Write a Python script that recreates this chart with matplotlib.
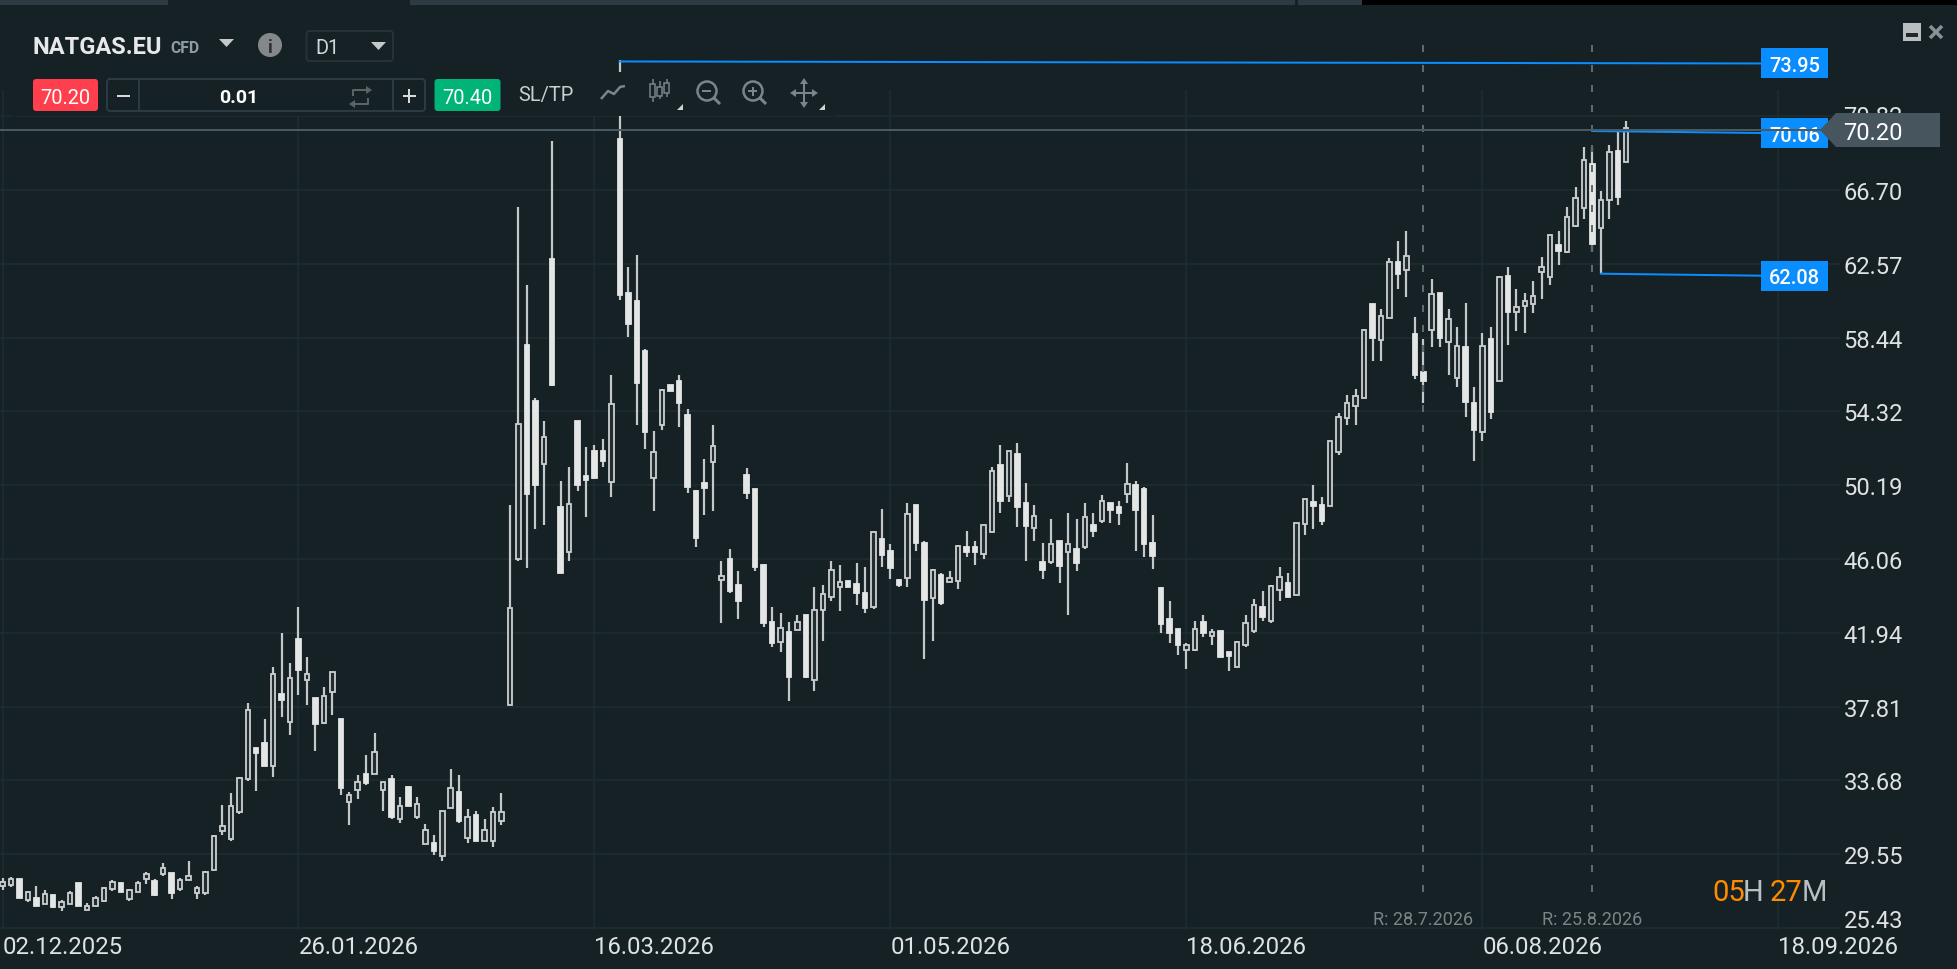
import numpy as np
import matplotlib
matplotlib.use('Agg')
import matplotlib.pyplot as plt
from matplotlib.patches import Rectangle, Polygon, Circle, FancyBboxPatch
from matplotlib.transforms import Affine2D

plt.rcParams['font.family'] = ['Roboto', 'DejaVu Sans']

highs = [28.21, 28.27, 28.17, 27.52, 27.80, 27.58, 27.28, 27.02, 27.50, 27.95,
         26.83, 27.24, 27.73, 28.13, 27.95, 27.61, 28.06, 28.58, 28.17, 29.07,
         28.51, 28.21, 29.18, 27.80, 28.62, 30.63, 32.31, 32.98, 33.88, 38.02,
         35.54, 37.12, 40.03, 41.93, 40.25, 43.39, 40.59, 38.31, 38.91, 39.77,
         37.12, 33.06, 33.99, 35.11, 36.34, 33.62, 33.99, 32.76, 33.39, 32.76,
         31.27, 30.63, 31.96, 34.32, 33.99, 32.09, 31.98, 31.53, 32.20, 32.98,
         49.06, 65.76, 61.39, 55.07, 53.79, 69.42, 50.43, 51.20, 53.79, 52.31,
         52.44, 52.79, 56.34, 73.95, 62.40, 63.06, 57.79, 53.21, 55.55, 55.78,
         56.34, 54.45, 49.93, 51.65, 53.56, 45.94, 46.62, 45.38, 51.16, 49.96,
         45.81, 43.37, 43.03, 42.55, 42.93, 42.92, 44.48, 44.59, 45.94, 45.72,
         44.82, 45.85, 45.61, 47.63, 48.85, 46.88, 44.95, 49.19, 49.06, 47.05,
         45.49, 45.27, 45.42, 46.85, 47.64, 47.10, 47.97, 51.20, 52.45, 52.13,
         52.56, 50.32, 49.09, 46.97, 48.31, 47.08, 48.64, 48.31, 49.20, 48.64,
         49.65, 49.20, 49.32, 51.44, 50.43, 50.08, 48.53, 44.49, 43.72, 42.16,
         41.37, 42.60, 42.94, 42.16, 42.04, 40.89, 41.49, 42.94, 43.83, 44.28,
         44.62, 45.62, 45.29, 48.08, 49.43, 50.21, 49.54, 52.67, 54.24, 55.24,
         55.58, 58.93, 60.34, 60.05, 62.92, 63.85, 64.41, 59.58, 58.37, 61.73,
         60.94, 60.05, 59.04, 60.39, 55.69, 58.70, 59.04, 61.91, 62.40, 61.17,
         60.94, 61.62, 62.96, 64.19, 64.41, 65.75, 66.87, 69.11, 69.11, 66.65,
         69.22, 70.00, 70.57]

lows = [27.54, 27.74, 27.09, 26.87, 26.64, 26.76, 26.53, 26.38, 26.76, 26.64,
        26.42, 26.64, 26.87, 27.50, 27.43, 26.94, 27.43, 27.87, 27.20, 28.32,
        27.05, 27.50, 28.10, 27.05, 27.28, 28.66, 30.63, 30.30, 31.79, 33.65,
        33.09, 34.47, 33.88, 37.23, 36.23, 38.46, 37.91, 35.33, 36.82, 37.35,
        32.87, 31.19, 32.65, 33.43, 34.03, 31.98, 31.53, 31.31, 32.24, 31.53,
        30.11, 29.51, 29.18, 32.13, 31.31, 30.19, 30.30, 30.30, 29.96, 31.19,
        37.93, 45.98, 45.55, 47.75, 47.97, 55.72, 45.29, 45.98, 49.87, 48.44,
        50.52, 51.20, 49.53, 60.53, 58.50, 53.58, 52.23, 48.76, 53.26, 55.48,
        53.47, 49.77, 46.73, 48.55, 48.76, 42.51, 44.16, 42.72, 49.45, 45.40,
        42.25, 41.16, 40.84, 38.13, 42.08, 39.39, 38.70, 41.48, 43.73, 43.15,
        44.52, 43.49, 43.07, 43.28, 45.61, 44.95, 44.52, 44.52, 46.51, 40.50,
        41.48, 43.50, 44.77, 44.39, 46.18, 45.74, 46.07, 47.56, 48.64, 49.24,
        47.86, 45.96, 47.08, 44.95, 45.77, 44.73, 42.94, 45.40, 46.63, 47.30,
        48.08, 48.08, 47.97, 49.20, 46.52, 46.18, 45.51, 41.93, 41.37, 40.70,
        39.92, 40.93, 41.71, 41.26, 40.59, 39.81, 40.03, 41.15, 41.93, 42.60,
        42.49, 43.72, 43.95, 44.06, 47.41, 47.75, 47.97, 49.02, 51.89, 53.56,
        53.56, 55.05, 57.14, 57.14, 59.53, 61.17, 60.72, 56.14, 54.79, 57.92,
        57.92, 56.36, 55.69, 54.01, 51.55, 52.67, 53.90, 56.04, 58.04, 58.82,
        58.71, 59.83, 60.61, 61.39, 62.51, 63.18, 64.64, 65.08, 63.22, 62.08,
        65.08, 65.87, 68.25]

opens = [27.76, 27.86, 28.17, 26.98, 27.13, 26.76, 27.28, 26.60, 26.76, 27.95,
         26.42, 26.64, 26.94, 27.61, 27.95, 27.05, 27.43, 28.17, 28.06, 28.47,
         28.51, 27.61, 28.10, 27.39, 27.39, 28.66, 30.86, 30.41, 31.90, 33.77,
         35.50, 35.78, 34.47, 38.54, 36.93, 41.60, 39.28, 38.31, 36.90, 38.61,
         37.12, 32.46, 33.13, 34.06, 34.03, 33.13, 33.77, 31.53, 33.32, 31.64,
         30.11, 30.19, 29.48, 32.13, 33.06, 30.45, 31.75, 30.30, 30.30, 31.42,
         37.93, 46.09, 58.01, 54.88, 51.37, 62.84, 48.97, 46.45, 53.79, 50.73,
         52.08, 52.08, 50.37, 69.57, 60.92, 60.47, 57.71, 50.58, 53.58, 55.78,
         56.00, 54.11, 49.87, 50.30, 51.48, 44.87, 46.04, 44.59, 50.75, 49.96,
         45.72, 42.55, 41.40, 41.97, 42.08, 42.92, 39.28, 43.20, 43.97, 44.52,
         44.82, 44.69, 44.14, 43.37, 47.18, 46.49, 44.91, 44.99, 49.06, 46.94,
         43.88, 45.19, 44.77, 44.86, 46.72, 46.72, 46.35, 47.56, 51.33, 49.58,
         51.96, 49.20, 47.79, 45.92, 45.88, 47.08, 46.44, 46.63, 46.72, 47.97,
         48.20, 49.20, 48.98, 49.69, 50.21, 49.99, 46.97, 44.43, 42.72, 42.16,
         41.00, 40.96, 42.57, 41.75, 42.04, 40.89, 40.03, 41.26, 42.04, 43.39,
         42.60, 44.32, 44.73, 44.06, 48.01, 49.28, 49.09, 49.05, 52.04, 53.94,
         54.61, 55.05, 60.34, 58.30, 59.53, 62.70, 62.21, 58.67, 56.55, 58.86,
         60.94, 58.19, 56.17, 57.92, 54.79, 53.15, 58.37, 56.04, 61.91, 59.86,
         60.20, 60.31, 62.10, 61.84, 63.63, 63.22, 64.67, 65.68, 68.18, 64.56,
         66.13, 68.89, 68.25]

closes = [28.02, 28.15, 27.09, 27.46, 26.64, 27.35, 26.60, 26.91, 27.39, 26.64,
          26.68, 27.13, 27.69, 28.02, 27.43, 27.54, 27.95, 28.47, 27.28, 28.81,
          27.39, 28.10, 28.36, 27.69, 28.58, 30.60, 31.16, 32.27, 33.84, 37.64,
          35.24, 34.47, 39.66, 38.17, 39.43, 39.84, 39.66, 36.82, 38.43, 39.77,
          33.24, 32.87, 33.62, 33.54, 35.29, 33.62, 31.64, 32.27, 32.24, 32.39,
          30.93, 29.74, 31.96, 33.28, 31.42, 31.64, 30.30, 30.93, 31.94, 31.94,
          43.35, 53.64, 49.70, 50.22, 52.87, 55.82, 45.29, 49.15, 50.22, 50.47,
          50.62, 51.54, 54.75, 60.81, 59.21, 55.93, 53.15, 52.06, 55.53, 55.48,
          54.82, 50.11, 47.22, 50.02, 52.40, 45.12, 44.27, 43.73, 49.77, 45.64,
          42.51, 41.38, 42.19, 39.49, 42.55, 39.45, 43.24, 44.12, 45.47, 44.78,
          44.52, 44.18, 43.30, 47.58, 46.30, 45.55, 44.61, 48.59, 46.98, 43.75,
          45.44, 43.61, 45.03, 46.78, 46.44, 46.44, 47.95, 50.99, 49.33, 52.09,
          49.00, 47.90, 48.49, 45.44, 46.93, 45.66, 46.93, 45.87, 48.40, 47.66,
          49.30, 48.79, 48.64, 50.28, 48.79, 46.89, 46.22, 42.42, 41.93, 41.26,
          41.26, 42.16, 41.93, 42.01, 40.59, 40.63, 41.45, 42.49, 43.50, 42.83,
          44.58, 45.06, 43.95, 48.06, 49.43, 49.02, 48.20, 52.65, 54.00, 54.77,
          55.20, 58.89, 58.41, 59.68, 62.70, 61.99, 63.03, 56.36, 56.02, 60.91,
          58.41, 59.49, 58.00, 54.83, 53.26, 58.00, 54.27, 61.82, 59.86, 60.14,
          60.48, 60.80, 62.38, 64.17, 63.30, 65.18, 66.28, 68.40, 63.67, 66.17,
          68.85, 66.31, 70.15]

date_ticks = [0, 35, 70, 105, 140, 175, 210]
date_labels = ['02.12.2025', '26.01.2026', '16.03.2026', '01.05.2026',
               '18.06.2026', '06.08.2026', '18.09.2026']
price_ticks = [25.43, 29.55, 33.68, 37.81, 41.94, 46.06, 50.19, 54.32, 58.44,
               62.57, 66.70, 70.82]

level_starts = [73, 188, 189]
level_prices = [73.95, 70.06, 62.08]
level_labels = ['73.95', '70.06', '62.08']
current_price = 70.06
bid = '70.20'
ask = '70.40'
rollover_index = [168, 188]
rollover_labels = ['R: 28.7.2026', 'R: 25.8.2026']

W, H = 1958, 970
BG = '#162126'
GRID = '#1f2c32'
WHITE = '#e4e5e5'
BLUE = '#0a8dff'
ICON = '#79858a'

# pixel layout of the chart area
px_per_bar = 8.457
px_per_unit = 17.88
bar0_px = 2.5
base_y_px = 929


def bar_x(px):
    return (px - bar0_px) / px_per_bar


fig = plt.figure(figsize=(W / 100, H / 100), dpi=100, facecolor=BG)
ax = fig.add_axes([0, 0, 1, 1])
ax.set_facecolor(BG)
ax.set_xlim(bar_x(0), bar_x(W))
ax.set_ylim(25.43 - (H - base_y_px) / px_per_unit, 25.43 + base_y_px / px_per_unit)
ax.axis('off')

pix = Affine2D().scale(1 / W, -1 / H).translate(0, 1) + fig.transFigure
xaxis_tr = ax.get_xaxis_transform()
yaxis_tr = ax.get_yaxis_transform()
lw2 = 0.72  # points per pixel at dpi 100


def box(x0, y0, x1, y1, color, z=6, **kw):
    ax.add_patch(Rectangle((x0, y0), x1 - x0, y1 - y0, facecolor=color,
                           edgecolor='none', transform=pix, zorder=z, **kw))


def line(xs, ys, color=ICON, width=2, z=8, **kw):
    ax.plot(xs, ys, color=color, lw=width * lw2, transform=pix, zorder=z,
            solid_capstyle='butt', **kw)


def label(x, y, s, color='white', size=14.4, ha='center', weight='normal', z=9):
    ax.text(x, y, s, color=color, fontsize=size, ha=ha, va='center_baseline',
            fontweight=weight, transform=pix, zorder=z)


def rounded(x0, y0, x1, y1, face, edge='none', r=3, width=2, z=7):
    ax.add_patch(FancyBboxPatch((x0, y0), x1 - x0, y1 - y0,
                                boxstyle='round,pad=0,rounding_size=%d' % r,
                                facecolor=face, edgecolor=edge, lw=width * lw2,
                                transform=pix, zorder=z))


# grid
ax.vlines(date_ticks, 25.43 - 0.1, 25.43 + 838 / px_per_unit, color=GRID, lw=1.5 * lw2, zorder=1)
ax.hlines(price_ticks, bar_x(0), bar_x(1840), color=GRID, lw=1.5 * lw2, zorder=1)

# candles
idx = np.arange(len(closes))
o = np.array(opens)
c = np.array(closes)
up = c >= o
ax.vlines(idx, lows, highs, color='#c4c8c9', lw=2.2 * lw2, zorder=2)
tops = np.maximum(o, c)
bottoms = np.minimum(o, c)
ax.bar(idx[up], (tops - bottoms)[up], bottom=bottoms[up], width=0.53, facecolor='#222d31',
       edgecolor='#cdd0d1', lw=1.8 * lw2, zorder=3)
ax.bar(idx[~up], (tops - bottoms)[~up], bottom=bottoms[~up], width=0.53, facecolor=WHITE,
       edgecolor=WHITE, lw=1.8 * lw2, zorder=3)

# top strip of the window
box(0, 0, 168, 6, '#2d3a43', z=6)
box(410, 0, 1295, 6, '#2d3a43', z=6)
box(1298, 0, 1362, 6, '#2d3a43', z=6)
box(1362, 0, W, 6, '#000000', z=6)

# toolbar background hides the grid and wick
box(12, 28, 400, 117, BG, z=5)
box(400, 73, 835, 117, BG, z=5)

# rollover lines
for i, text in zip(rollover_index, rollover_labels):
    ax.plot([i, i], [25.43 + 36 / px_per_unit, 25.43 + 884 / px_per_unit], color='#5f6a6e',
            lw=2 * lw2, dashes=(3.5, 6.5), zorder=4)
    ax.text(i, 1 - 918 / H, text, transform=xaxis_tr, color='#7b8487', fontsize=13,
            ha='center', va='center_baseline', zorder=6)

# high / low levels with their boxes, the lines sag slightly towards the box
for start, p, text in zip(level_starts, level_prices, level_labels):
    p_start = p - 1 / px_per_unit
    p_end = p - 3 / px_per_unit
    ax.plot([start, bar_x(1762)], [p_start, p_end], color=BLUE, lw=2 * lw2, zorder=5)
    ax.add_patch(Rectangle((bar_x(1761), p_end - 15 / px_per_unit), 67 / px_per_bar,
                           30 / px_per_unit, facecolor=BLUE, edgecolor='none', zorder=6))
    ax.text(bar_x(1794.5), p_end, text, color='white', fontsize=14.4, ha='center',
            va='center_baseline', fontweight='medium', zorder=7)

# current price line and tag
ax.hlines(current_price, bar_x(0), bar_x(1822), color='#4a5a62', lw=2 * lw2, zorder=7)

# axis labels
for p in price_ticks:
    dy = 10 if p == price_ticks[0] else (2 if p == price_ticks[-1] else 0)
    ax.annotate('%.2f' % p, xy=(1843.5 / W, p), xycoords=yaxis_tr, xytext=(0, dy),
                textcoords='offset pixels', color='#dfe2e4', fontsize=17.1, ha='left',
                va='center_baseline', zorder=6, annotation_clip=False)
for t, text in zip(date_ticks, date_labels):
    ax.text(t, 1 - 945 / H, text, transform=xaxis_tr, color='#e0e3e5', fontsize=17.2,
            ha='left', va='center_baseline', zorder=6)

ax.add_patch(Polygon([(1820, 131), (1836, 114), (1940, 114), (1940, 148), (1836, 148)],
                     closed=True, facecolor='#47555e', edgecolor='none', transform=pix, zorder=8))
label(1843.5, 131, bid, color='white', size=17.1, ha='left')

# window buttons
box(1903, 24, 1921, 42, '#b9bec1', z=8)
box(1906, 34, 1918, 38, '#22292d', z=9)
line([1930, 1942], [27, 39], color='#8a9094', width=3.5)
line([1930, 1942], [39, 27], color='#8a9094', width=3.5)

# countdown
label(1712, 890, '05', color='#ff8c00', size=21, ha='left')
label(1743, 890, 'H', color='#b9c0c3', size=21, ha='left')
label(1770, 890, '27', color='#ff8c00', size=21, ha='left')
label(1801.5, 890, 'M', color='#b9c0c3', size=21, ha='left')

# instrument header
label(32, 45, 'NATGAS.EU', color='#e6e8e9', size=17, ha='left', weight='bold')
label(170, 47, 'CFD', color='#8f9ca3', size=11.3, ha='left', weight='bold')
ax.add_patch(Polygon([(219, 40), (234, 40), (226.5, 48)], facecolor='#c5c9cc', transform=pix, zorder=8))
ax.add_patch(Circle((270, 46), 12, facecolor='#85888a', edgecolor='none', transform=pix, zorder=8))
label(270, 46, 'i', color='#2a3033', size=13, weight='bold')
rounded(306.5, 32, 393, 62, 'none', edge='#263238')
label(315, 47, 'D1', color='#d0d5d8', size=14.4, ha='left')
ax.add_patch(Polygon([(371, 43), (386, 43), (378.5, 51)], facecolor='#c5c9cc', transform=pix, zorder=8))

# order row
rounded(33, 80, 98, 112, '#ff3f4d')
label(65.5, 96, bid)
rounded(107, 80, 425, 112, 'none', edge='#2c3a42')
line([139.5, 139.5], [80, 112], color='#2c3a42')
line([393, 393], [80, 112], color='#2c3a42')
line([117, 130], [97, 97], color='#d8dbdd')
label(239, 96, '0.01', size=14, weight='bold')
line([403, 416], [97, 97], color='#d8dbdd')
line([409.5, 409.5], [90, 104], color='#d8dbdd')
# swap arrows
line([353, 353, 368], [97, 91, 91], color='#5a6466')
line([368, 368, 353], [99, 105, 105], color='#5a6466')
ax.add_patch(Polygon([(366, 87), (372, 91), (366, 95)], facecolor='#5a6466', transform=pix, zorder=8))
ax.add_patch(Polygon([(355, 101), (349, 105), (355, 109)], facecolor='#5a6466', transform=pix, zorder=8))
rounded(434.5, 80, 500.5, 112, '#00b377')
label(467.5, 96, ask)
label(518.5, 93, 'SL/TP', color='#c9ced1', size=14.4, ha='left')

# tool icons
line([601, 608, 614, 620, 625], [100, 92, 95, 88, 87], color=ICON, width=2.5)
for x, y0, y1, w0, w1 in [(653, 80, 103, 85, 98), (660, 82, 100, 88, 97), (667, 80, 98, 84, 94)]:
    line([x, x], [y0, y1], color=ICON, width=1.5)
    ax.add_patch(Rectangle((x - 2.5, w0), 5, w1 - w0, facecolor=BG, edgecolor=ICON, lw=1.5 * lw2,
                           transform=pix, zorder=9))
for cx in (707, 753):
    ax.add_patch(Circle((cx, 92), 9.5, facecolor='none', edgecolor=ICON, lw=2.5 * lw2, transform=pix, zorder=8))
    line([cx + 7, cx + 13], [99, 105], width=3)
    line([cx - 4.5, cx + 4.5], [92, 92], width=2)
line([753, 753], [87.5, 96.5], width=2)
line([793, 815], [94, 94], width=2)
line([804, 804], [82, 106], width=2)
for tri in ([(804, 79), (800, 85), (808, 85)], [(804, 109), (800, 103), (808, 103)],
            [(790, 94), (796, 90), (796, 98)], [(818, 94), (812, 90), (812, 98)]):
    ax.add_patch(Polygon(tri, facecolor=ICON, transform=pix, zorder=8))
for x in (680, 822):
    ax.add_patch(Polygon([(x - 3, 111), (x + 3, 111), (x + 3, 105)], facecolor='#cfd3d5', transform=pix, zorder=8))

fig.savefig('out.png', dpi=100, facecolor=BG)
